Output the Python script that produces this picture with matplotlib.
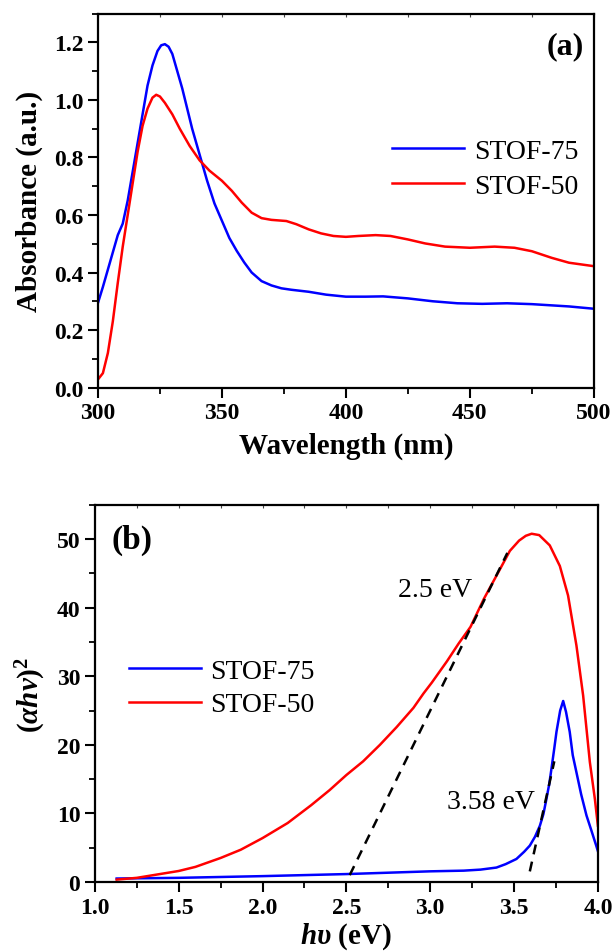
import matplotlib
matplotlib.use("Agg")
import matplotlib.pyplot as plt
from matplotlib.ticker import MultipleLocator

plt.rcParams["font.family"] = ["Liberation Serif", "DejaVu Serif"]
plt.rcParams["mathtext.fontset"] = "custom"
plt.rcParams["mathtext.it"] = "Liberation Serif:italic:bold"
plt.rcParams["mathtext.rm"] = "Liberation Serif:bold"
plt.rcParams["mathtext.bf"] = "Liberation Serif:bold"

# ---- (a) UV-vis absorbance ----
wl_75 = [300, 302, 304, 306, 308, 310, 312, 314, 316, 318, 320, 322, 324, 325.5, 327,
         328.5, 330, 332, 334, 336, 338, 341, 344, 347, 350, 353, 356, 359, 362, 366,
         370, 374, 378, 385, 392, 400, 408, 415, 425, 435, 445, 455, 465, 475, 490, 500]
abs_75 = [0.294, 0.35, 0.41, 0.47, 0.53, 0.57, 0.65, 0.75, 0.85, 0.95, 1.05, 1.12, 1.17,
          1.19, 1.194, 1.185, 1.16, 1.10, 1.04, 0.97, 0.90, 0.81, 0.72, 0.64, 0.58, 0.52,
          0.475, 0.435, 0.40, 0.37, 0.355, 0.345, 0.34, 0.333, 0.323, 0.316, 0.316, 0.317,
          0.31, 0.3, 0.293, 0.291, 0.293, 0.29, 0.282, 0.274]

wl_50 = [300, 302, 304, 306, 308, 310, 312, 314, 316, 318, 320, 322, 323.5, 325, 327,
         330, 333, 337, 341, 345, 350, 354, 358, 362, 366, 370, 376, 380, 385, 390, 395,
         400, 405, 412, 418, 425, 432, 440, 450, 460, 468, 475, 483, 490, 500]
abs_50 = [0.028, 0.05, 0.12, 0.23, 0.364, 0.49, 0.6, 0.71, 0.82, 0.91, 0.97, 1.008, 1.018,
          1.012, 0.99, 0.95, 0.9, 0.84, 0.79, 0.754, 0.719, 0.684, 0.643, 0.608, 0.589,
          0.583, 0.579, 0.568, 0.55, 0.536, 0.527, 0.524, 0.527, 0.53, 0.527, 0.515,
          0.501, 0.49, 0.486, 0.49, 0.486, 0.474, 0.451, 0.434, 0.422]

# ---- (b) Tauc plot ----
hv_75 = [1.13, 1.5, 2.0, 2.5, 3.0, 3.2, 3.3, 3.395, 3.45, 3.514, 3.56, 3.594, 3.625,
         3.654, 3.675, 3.693, 3.71, 3.723, 3.74, 3.753, 3.775, 3.793, 3.81, 3.832,
         3.85, 3.872, 3.9, 3.932, 3.96, 3.99, 4.0]
tauc_75 = [0.5, 0.6, 0.85, 1.15, 1.55, 1.65, 1.8, 2.1, 2.6, 3.35, 4.4, 5.3, 6.6,
           8.2, 9.9, 12.1, 14.3, 16.5, 19.5, 21.9, 25.0, 26.4, 24.8, 21.9,
           18.5, 16.0, 12.8, 9.7, 7.6, 5.3, 4.5]

hv_50 = [1.13, 1.25, 1.4, 1.5, 1.6, 1.75, 1.87, 2.0, 2.15, 2.29, 2.4, 2.5, 2.6, 2.7,
         2.8, 2.9, 2.96, 3.01, 3.1, 3.17, 3.24, 3.32, 3.4, 3.475, 3.53, 3.57, 3.605,
         3.65, 3.713, 3.773, 3.822, 3.872, 3.912, 3.952, 3.982, 4.0]
tauc_50 = [0.34, 0.6, 1.2, 1.6, 2.2, 3.5, 4.7, 6.4, 8.6, 11.2, 13.4, 15.6, 17.6, 20.0,
           22.6, 25.4, 27.5, 29.1, 32.2, 34.8, 37.2, 41.3, 44.9, 48.3, 49.8, 50.5, 50.8,
           50.6, 49.1, 46.1, 41.8, 34.5, 27.2, 17.5, 12.1, 8.2]

# Band-gap extrapolations: intercept, slope, x-range of the drawn segment
gap_50, slope_50, span_50 = 2.5, 50.0, (2.52, 3.46)
gap_75, slope_75, span_75 = 3.58, 110.0, (3.594, 3.74)

labels = ["STOF-75", "STOF-50"]
colors = ["#0000ff", "#ff0000"]

fig = plt.figure(figsize=(6.16, 9.53), dpi=100)
ax1 = fig.add_axes([0.159, 0.5923, 0.805, 0.3923])
ax2 = fig.add_axes([0.154, 0.0735, 0.8166, 0.3956])


def finish(ax, major, minor):
    for s in ax.spines.values():
        s.set_linewidth(1.6)
    ax.tick_params(which="major", direction="out", length=7, width=1.5,
                   right=False, top=False, labelsize=17)
    ax.tick_params(which="minor", direction="out", length=4, width=1.3,
                   right=False, top=False)
    for lab in ax.get_xticklabels() + ax.get_yticklabels():
        lab.set_fontweight("bold")
    # faint short inward ticks along the top frame
    top = ax.secondary_xaxis("top")
    top.xaxis.set_major_locator(MultipleLocator(minor))
    top.tick_params(direction="in", length=2.5, width=0.8, labeltop=False,
                    colors="#444444")
    top.spines["top"].set_visible(False)


# panel (a)
ax1.plot(wl_75, abs_75, color=colors[0], lw=1.8, label=labels[0])
ax1.plot(wl_50, abs_50, color=colors[1], lw=1.8, label=labels[1])
ax1.set_xlim(300, 500)
ax1.set_ylim(0, 1.3)
ax1.xaxis.set_major_locator(MultipleLocator(50))
ax1.xaxis.set_minor_locator(MultipleLocator(25))
ax1.set_yticks([0.0, 0.2, 0.4, 0.6, 0.8, 1.0, 1.2])
ax1.set_yticklabels(["0.0", "0.2", "0.4", "0.6", "0.8", "1.0", "1.2"])
ax1.yaxis.set_minor_locator(MultipleLocator(0.1))
finish(ax1, 50, 25)
ax1.set_xlabel("Wavelength (nm)", fontsize=21, fontweight="bold", labelpad=6)
ax1.set_ylabel("Absorbance (a.u.)", fontsize=21, fontweight="bold", labelpad=8)
ax1.text(0.98, 0.915, "(a)", transform=ax1.transAxes, ha="right", va="center",
         fontsize=23, fontweight="bold")
ax1.legend(loc="center left", bbox_to_anchor=(0.57, 0.585), frameon=False,
           fontsize=20, handlelength=2.6, handletextpad=0.35, labelspacing=0.35,
           borderaxespad=0.0)

# panel (b)
ax2.plot(hv_75, tauc_75, color=colors[0], lw=1.8, label=labels[0])
ax2.plot(hv_50, tauc_50, color=colors[1], lw=1.8, label=labels[1])
for gap, slope, span in [(gap_50, slope_50, span_50), (gap_75, slope_75, span_75)]:
    xs = list(span)
    ys = [slope * (x - gap) for x in xs]
    ax2.plot(xs, ys, color="black", lw=1.8, ls=(0, (4, 3)))
ax2.set_xlim(1.0, 4.0)
ax2.set_ylim(0, 55)
ax2.xaxis.set_major_locator(MultipleLocator(0.5))
ax2.xaxis.set_minor_locator(MultipleLocator(0.25))
ax2.yaxis.set_major_locator(MultipleLocator(10))
ax2.yaxis.set_minor_locator(MultipleLocator(5))
finish(ax2, 0.5, 0.25)
ax2.set_xlabel(r"$h\upsilon$ (eV)", fontsize=21, fontweight="bold", labelpad=2)
ax2.set_ylabel(r"$(\alpha h\nu)^2$", fontsize=21, fontweight="bold", labelpad=6)
ax2.text(1.1, 50, "(b)", ha="left", va="center", fontsize=24, fontweight="bold")
ax2.text(2.81, 42.7, f"{gap_50} eV", ha="left", va="center", fontsize=20)
ax2.text(3.1, 11.8, f"{gap_75} eV", ha="left", va="center", fontsize=20)
ax2.legend(loc="center left", bbox_to_anchor=(0.045, 0.515), frameon=False,
           fontsize=20, handlelength=2.6, handletextpad=0.35, labelspacing=0.3,
           borderaxespad=0.0)

fig.savefig("out.png", dpi=100)
